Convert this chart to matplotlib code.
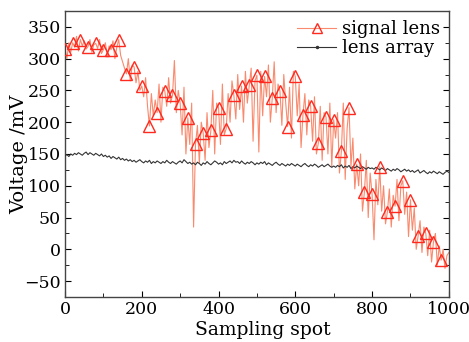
import numpy as np
import matplotlib
matplotlib.use("Agg")
import matplotlib.pyplot as plt
from matplotlib.ticker import MultipleLocator

# sampling step of the hand-read series
step = 5

# signal lens (orange, markers every 20 samples)
signal_lens = [
    315, 300, 325, 310, 325, 318, 335, 312, 330, 320, 328, 315,
    319, 330, 310, 322, 324, 316, 330, 308, 314, 325, 305, 320,
    314, 328, 300, 318, 330, 305, 295, 285, 276, 300, 265, 290,
    287, 262, 280, 250, 257, 240, 270, 225, 194, 245, 210, 235,
    215, 260, 200, 255, 249, 225, 270, 230, 242, 297, 215, 250,
    230, 180, 255, 150, 207, 165, 230, 35, 165, 195, 135, 200,
    183, 140, 215, 160, 187, 250, 150, 230, 223, 165, 260, 180,
    190, 245, 200, 265, 242, 205, 275, 220, 257, 200, 280, 230,
    258, 285, 170, 265, 274, 153, 280, 210, 272, 240, 290, 200,
    238, 295, 215, 260, 249, 195, 275, 230, 193, 255, 175, 280,
    272, 210, 260, 160, 212, 245, 180, 235, 225, 170, 240, 150,
    167, 225, 140, 215, 208, 150, 230, 130, 204, 175, 215, 120,
    154, 230, 110, 190, 223, 130, 175, 95, 134, 100, 150, 60,
    90, 140, 50, 120, 87, 15, 110, 70, 130, 60, 100, 40,
    59, 95, 35, 85, 68, 110, 45, 100, 108, 55, 90, 20,
    78, 30, 65, 0, 21, 45, -5, 35, 25, -10, 30, -20,
    12, 25, -25, 5, -17, 0, -30, -10, -5,
]

# lens array (black)
lens_array = [
    147, 149, 146, 150, 148, 151, 149, 152, 150, 148, 151, 153, 149, 152, 150, 148, 151, 149, 147, 150,
    146, 148, 145, 147, 143, 146, 144, 142, 145, 141, 143, 140, 142, 139, 141, 138, 140, 137, 139, 141,
    138, 136, 139, 137, 140, 135, 138, 136, 139, 137, 135, 138, 136, 140, 137, 135, 138, 136, 134, 137,
    139, 136, 141, 138, 135, 137, 134, 136, 133, 137, 135, 132, 136, 134, 138, 135, 133, 136, 139, 137,
    134, 136, 133, 138, 135, 137, 139, 136, 140, 137, 138, 135, 139, 136, 134, 137, 135, 138, 136, 133,
    136, 134, 137, 135, 138, 133, 136, 134, 132, 135, 137, 134, 132, 135, 133, 131, 134, 132, 135, 133,
    131, 134, 132, 130, 133, 135, 132, 130, 133, 131, 134, 132, 129, 131, 133, 130, 132, 134, 131, 129,
    131, 129, 132, 130, 133, 128, 131, 129, 132, 127, 130, 128, 131, 129, 127, 130, 128, 126, 129, 127,
    128, 126, 129, 127, 125, 128, 126, 124, 127, 125, 123, 126, 124, 127, 125, 122, 124, 126, 123, 125,
    122, 124, 121, 123, 125, 120, 122, 124, 121, 119, 122, 120, 123, 121, 119, 122, 120, 118, 121, 123,
    121,
]

x_sig = np.arange(len(signal_lens)) * step
x_arr = np.arange(len(lens_array)) * step

plt.rcParams['font.family'] = ['DejaVu Serif']
plt.rcParams['font.size'] = 13

fig = plt.figure(figsize=(4.69, 3.42), dpi=100)
ax = fig.add_axes([0.1386, 0.1316, 0.8184, 0.8364])

# line only, then markers on top (every 20 samples)
ax.plot(x_sig, signal_lens, color='#f98a6e', lw=0.8, zorder=2)
ax.plot(x_arr, lens_array, color='#333333', lw=0.8, zorder=3)
ax.plot(x_sig[:-1:4], signal_lens[:-1:4], ls='none', marker='^', ms=9,
        mfc='none', mec='#ff2a1f', mew=1.0, zorder=4)

# legend proxies
h1, = ax.plot([], [], color='#f98a6e', lw=0.8, marker='^', ms=7,
              mfc='none', mec='#ff2a1f', mew=1.0)
h2, = ax.plot([], [], color='#333333', lw=0.8, marker='.', ms=3)
ax.legend([h1, h2], ['signal lens', 'lens array'], loc='upper right',
          frameon=False, handlelength=2.2, handletextpad=0.3,
          labelspacing=0.05, borderaxespad=0.1, fontsize=13)

ax.set_xlim(0, 1000)
ax.set_ylim(-75, 375)
ax.xaxis.set_major_locator(MultipleLocator(200))
ax.xaxis.set_minor_locator(MultipleLocator(100))
ax.yaxis.set_major_locator(MultipleLocator(50))
ax.yaxis.set_minor_locator(MultipleLocator(25))
ax.set_yticks(np.arange(-50, 351, 50))
ax.tick_params(which='both', direction='in', right=True, top=False, labelsize=12.5)
ax.tick_params(which='major', length=4, pad=3)
ax.tick_params(which='minor', length=3)
for s in ax.spines.values():
    s.set_color('#444444')
    s.set_linewidth(1.0)

ax.set_xlabel('Sampling spot', fontsize=13.5)
ax.set_ylabel('Voltage /mV', fontsize=14)
ax.xaxis.set_label_coords(0.515, -0.085)
ax.yaxis.set_label_coords(-0.097, 0.5)

fig.savefig('out.png', dpi=100)
